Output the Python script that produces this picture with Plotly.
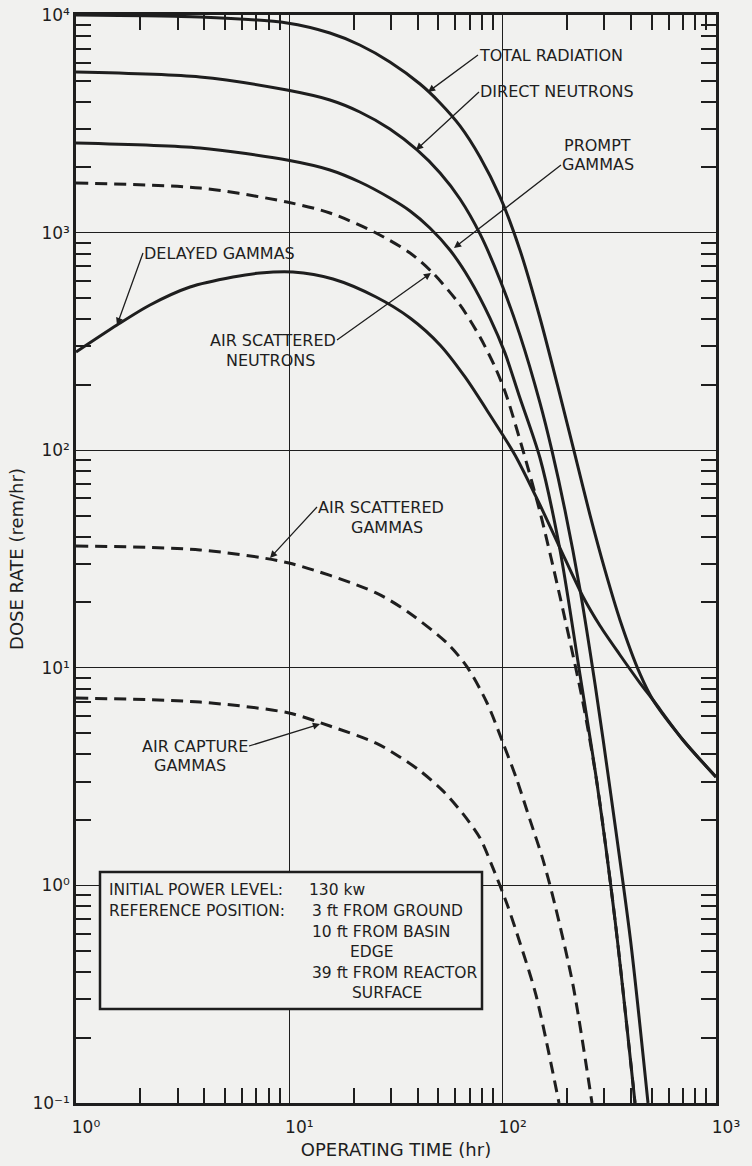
import plotly.graph_objects as go

# ---------------- data ----------------
total_hr = [1, 3.81, 9.75, 15.5, 21.4, 29.6, 41, 50.9, 63.1, 78.3, 97.2, 120.5, 149.6,
            185.7, 218.3, 256.6, 301.7, 354.7, 440.4, 506.8, 700.2, 1000]
total_dose = [10000, 9790, 9190, 8265, 7280, 6083, 4818, 3944, 3093, 2226, 1458, 832, 405,
              179, 95.1, 50.4, 28.1, 16.6, 9.37, 7.11, 4.66, 3.15]

direct_hr = [1, 3.81, 9.75, 15.5, 21.4, 29.6, 39.7, 50.9, 63.1, 78.3, 97.2, 120.5, 149.6,
             170, 195.8, 230.6, 271.4, 319.3, 397.4, 480]
direct_dose = [5470, 5190, 4520, 4068, 3583, 2993, 2397, 1880, 1427, 986, 606, 338, 165,
               100, 53.1, 22.8, 8.34, 2.74, 0.561, 0.1]

prompt_hr = [1, 3.81, 9.75, 15.5, 21.4, 29.6, 36.8, 45.6, 56.6, 70.3, 87.2, 102.5, 119.3,
             149.6, 185.7, 230.5, 276.8, 336.3, 417.2]
prompt_dose = [2581, 2448, 2156, 1940, 1708, 1442, 1257, 1050, 832, 606, 405, 280, 179,
               92.1, 34.8, 9.27, 2.95, 0.693, 0.1]

asn_hr = [1, 3.81, 9.75, 15.5, 25.5, 36.8, 47.1, 63.1, 78.3, 92.1, 103.6, 123.2, 149.6,
          185.7, 238.1, 276.8, 336.3, 417.2]
asn_dose = [1690, 1603, 1382, 1231, 996, 806, 652, 465, 331, 241, 181, 103.4, 52.0,
            21.2, 6.89, 2.95, 0.693, 0.1]

delayed_hr = [1, 1.557, 2.223, 3.423, 5.445, 7.288, 10.4, 16.02, 25.5, 36.8, 50.85, 66.6,
              87.2, 114.2, 149.6, 185.7, 238.1, 285.9, 354.8, 440.4, 506.8, 700.2, 1000]
delayed_dose = [282.7, 376.2, 465, 562.3, 625.2, 652.2, 659.1, 612.0, 505.8, 405.0, 304.5,
                217.0, 145.1, 95.1, 56.0, 35.5, 21.2, 15.6, 11.45, 8.51, 7.11, 4.66, 3.15]

asg_hr = [1, 3.81, 9.96, 25.5, 36.4, 54.8, 68.1, 84.5, 100.4, 116.7, 134.3, 154.6, 175.9,
          213.7, 262.3]
asg_dose = [36.3, 34.8, 30.3, 22.1, 17.9, 13.0, 10.1, 6.89, 4.51, 3.05, 2.0, 1.31, 0.813,
            0.348, 0.1]

acg_hr = [1, 3.81, 9.96, 15.5, 25.5, 33.0, 41.0, 52.5, 65.2, 78.3, 90.1, 104.8, 120.6,
          143.3, 183.7]
acg_dose = [7.26, 6.96, 6.20, 5.40, 4.51, 3.89, 3.36, 2.72, 2.13, 1.65, 1.20, 0.821, 0.544,
            0.313, 0.1]

x_major = [1, 10, 100, 1000]
x_major_text = ["10⁰", "10¹", "10²", "10³"]
y_major = [0.1, 1, 10, 100, 1000, 10000]
y_major_text = ["10⁻¹", "10⁰", "10¹", "10²", "10³", "10⁴"]
digits = [2, 3, 4, 5, 6, 7, 8, 9]
x_minor = [d * 10 ** k for k in range(0, 3) for d in digits]
y_minor = [d * 10 ** k for k in range(-1, 4) for d in digits]

# ---------------- styling ----------------
INK = "#1e1e1e"
BG = "#f1f1ef"
FONT = "DejaVu Sans, Verdana, sans-serif"

W, H = 752, 1166
PL, PR, PT, PB = 76, 716, 15, 1103


def dx(px):
    return (px - PL) / (PR - PL)


def dy(py):
    return (PB - py) / (PB - PT)


fig = go.Figure()

DASH = "12px,7px"
series = [
    (asn_hr, asn_dose, DASH),
    (asg_hr, asg_dose, DASH),
    (acg_hr, acg_dose, DASH),
    (delayed_hr, delayed_dose, "solid"),
    (prompt_hr, prompt_dose, "solid"),
    (direct_hr, direct_dose, "solid"),
    (total_hr, total_dose, "solid"),
]
for t, v, d in series:
    fig.add_trace(go.Scatter(
        x=t, y=v, mode="lines", showlegend=False, hoverinfo="skip",
        line=dict(color=INK, width=3, dash=d, shape="spline", smoothing=0.8),
    ))

axis_common = dict(
    type="log", showgrid=True, gridcolor=INK, gridwidth=1.4,
    showline=True, linecolor=INK, linewidth=2.5, mirror="ticks",
    ticks="", zeroline=False,
    tickfont=dict(family=FONT, size=17, color=INK),
)

fig.update_xaxes(
    **axis_common, range=[0, 3],
    tickmode="array", tickvals=x_major, ticktext=x_major_text,
    minor=dict(ticks="inside", ticklen=15, tickwidth=1.5, tickcolor=INK,
               tickmode="array", tickvals=x_minor, showgrid=False),
    ticklabelshift=10, ticklabelstandoff=7,
    title=dict(text="OPERATING TIME (hr)", standoff=8,
               font=dict(family=FONT, size=18, color=INK)),
)
fig.update_yaxes(
    **axis_common, range=[-1, 4],
    tickmode="array", tickvals=y_major, ticktext=y_major_text,
    minor=dict(ticks="inside", ticklen=15, tickwidth=1.5, tickcolor=INK,
               tickmode="array", tickvals=y_minor, showgrid=False),
    title=dict(text="DOSE RATE (rem/hr)", standoff=5,
               font=dict(family=FONT, size=18, color=INK)),
)

annotations = []


def label(text, px, py, xanchor="left", size=16):
    annotations.append(dict(
        text=text, x=dx(px), y=dy(py), xref="x domain", yref="y domain",
        xanchor=xanchor, yanchor="middle", showarrow=False,
        font=dict(family=FONT, size=size, color=INK),
    ))


def pointer(text, tail, head, xanchor="left"):
    # text box anchored at the arrow tail, arrow pointing at the curve
    annotations.append(dict(
        text=text, x=dx(head[0]), y=dy(head[1]), xref="x domain", yref="y domain",
        ax=tail[0] - head[0], ay=tail[1] - head[1], axref="pixel", ayref="pixel",
        xanchor=xanchor, yanchor="middle",
        showarrow=True, arrowhead=2, arrowsize=1.1, arrowwidth=1.3, arrowcolor=INK,
        standoff=0, borderpad=0,
        font=dict(family=FONT, size=16, color=INK),
    ))


pointer("TOTAL RADIATION", (478, 55), (428, 92))
pointer("DIRECT NEUTRONS", (479, 92), (416, 150))
label("PROMPT", 562, 145)
pointer("GAMMAS", (561, 165), (454, 248))
pointer("DELAYED GAMMAS", (143, 253), (117, 325))
pointer("AIR SCATTERED", (337, 340), (431, 273), xanchor="right")
label("NEUTRONS", 270, 360, xanchor="center")
pointer("AIR SCATTERED", (317, 507), (270, 558))
label("GAMMAS", 387, 527, xanchor="center")
pointer("AIR CAPTURE", (249, 746), (320, 724), xanchor="right")
label("GAMMAS", 190, 766, xanchor="center")

# reference box text
BS = 15.5
label("INITIAL POWER LEVEL:", 107, 890, size=BS)
label("REFERENCE POSITION:", 107, 911, size=BS)
label("130 kw", 307, 890, size=BS)
label("3 ft FROM GROUND", 310, 911, size=BS)
label("10 ft FROM BASIN", 310, 932, size=BS)
label("EDGE", 348, 952, size=BS)
label("39 ft FROM REACTOR", 310, 973, size=BS)
label("SURFACE", 350, 993, size=BS)

shapes = [dict(
    type="rect", xref="x domain", yref="y domain",
    x0=dx(100), x1=dx(482), y0=dy(1009), y1=dy(872),
    line=dict(color=INK, width=2.5), fillcolor=BG, layer="above",
)]

fig.update_layout(
    width=W, height=H,
    margin=dict(l=PL, r=W - PR, t=PT, b=H - PB, autoexpand=False),
    paper_bgcolor=BG, plot_bgcolor=BG,
    annotations=annotations, shapes=shapes,
    font=dict(family=FONT, color=INK),
)

fig.write_html("out.html")
